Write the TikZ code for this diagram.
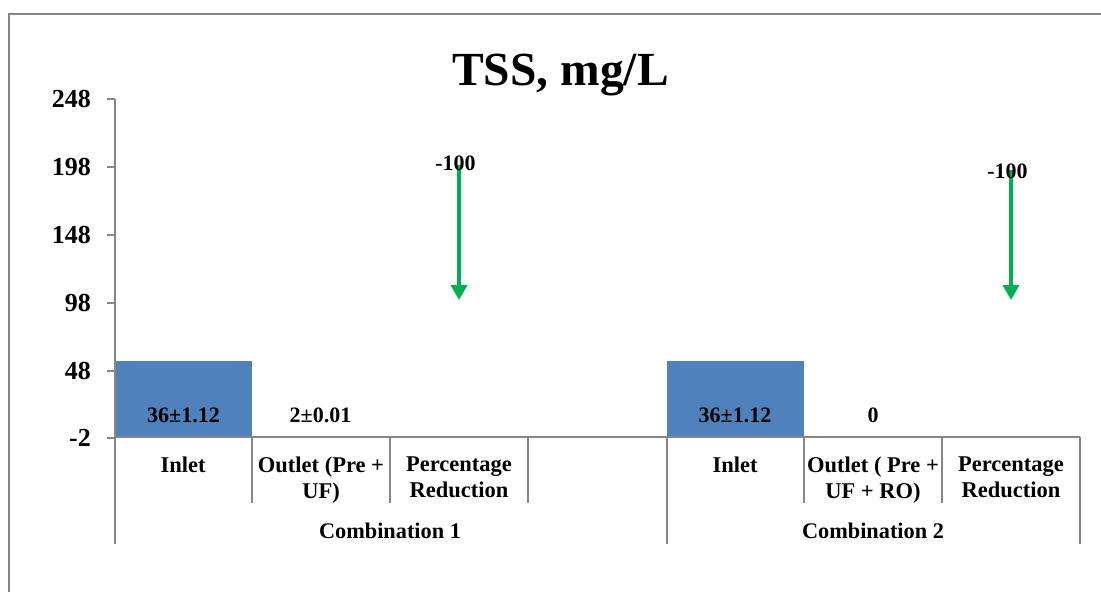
\documentclass[tikz,border=0pt]{standalone}
\usepackage{fontspec}
\setmainfont{Liberation Serif}
\usetikzlibrary{arrows.meta}
\definecolor{axisgray}{RGB}{134,134,134}
\definecolor{barblue}{RGB}{79,129,189}
\definecolor{arrowgreen}{RGB}{0,176,80}
\begin{document}
\begin{tikzpicture}[x=1pt,y=-1pt,
  ticklab/.style={anchor=base east, inner sep=0pt, font=\bfseries\fontsize{26}{30}\selectfont},
  datalab/.style={anchor=base, inner sep=0pt, font=\bfseries\fontsize{22}{26}\selectfont},
  catlab/.style={anchor=north, inner sep=0pt, align=center, font=\bfseries\fontsize{22.5}{26}\selectfont},
  grouplab/.style={anchor=base, inner sep=0pt, font=\bfseries\fontsize{22.3}{26}\selectfont},
  axisline/.style={draw=axisgray, line width=1.6pt},
  frameline/.style={draw=axisgray, line width=1.3pt},
  barfill/.style={fill=barblue, draw=none},
  droparrow/.style={draw=arrowgreen, line width=4.5pt, -{Triangle[width=16pt,length=15pt]}}]
\useasboundingbox (0,0) rectangle (1101,592);
\fill[white] (0,0) rectangle (1101,592);

% chart frame
\draw[frameline] (9,592) -- (9,14) -- (1101,14);

% title
\node[anchor=base, inner sep=0pt, font=\bfseries\fontsize{47.5}{52}\selectfont] (title) at (560.5,85) {TSS, mg/L};

% bars
\fill[barfill] (115,361) rectangle (252,437);
\fill[barfill] (667,361) rectangle (804,437);

% value axis with ticks and labels
\draw[axisline] (115,99) -- (115,437);
\foreach \v/\yy in {248/99, 198/167, 148/235, 98/303, 48/371, -2/438} {
  \draw[axisline] (107,\yy) -- (115,\yy);
  \node[ticklab] (tick\v) at (91,\yy+8.5) {\v};
}

% category axis and divider lines
\draw[axisline] (115,437) -- (1080,437);
\foreach \xx in {252,390,528,804,942} {
  \draw[axisline] (\xx,437) -- (\xx,503);
}
\foreach \xx in {115,667,1080} {
  \draw[axisline] (\xx,437) -- (\xx,544);
}

% reduction arrows
\coordinate (r1top) at (459,165);
\coordinate (r1tip) at (459,300);
\coordinate (r2top) at (1011,170);
\coordinate (r2tip) at (1011,300);
\draw[droparrow] (r1top) -- (r1tip);
\draw[droparrow] (r2top) -- (r2tip);

% data labels
\node[datalab] (v11) at (183.5,422) {36±1.12};
\node[datalab] (v12) at (320.5,422) {2±0.01};
\node[datalab] (v13) at (455.5,170) {-100};
\node[datalab] (v21) at (735,422) {36±1.12};
\node[datalab] (v22) at (873,422) {0};
\node[datalab] (v23) at (1007.5,178.5) {-100};

% category labels
\node[catlab] (c11) at (183,456.5) {Inlet};
\node[catlab] (c12) at (321,456.5) {Outlet (Pre +\\UF)};
\node[catlab] (c13) at (459,456.5) {Percentage\\Reduction};
\node[catlab] (c21) at (735,456.5) {Inlet};
\node[catlab] (c22) at (873,456.5) {Outlet ( Pre +\\UF + RO)};
\node[catlab] (c23) at (1011,456.5) {Percentage\\Reduction};

% group labels
\node[grouplab] (g1) at (390,538) {Combination 1};
\node[grouplab] (g2) at (873,538) {Combination 2};
\end{tikzpicture}
\end{document}
